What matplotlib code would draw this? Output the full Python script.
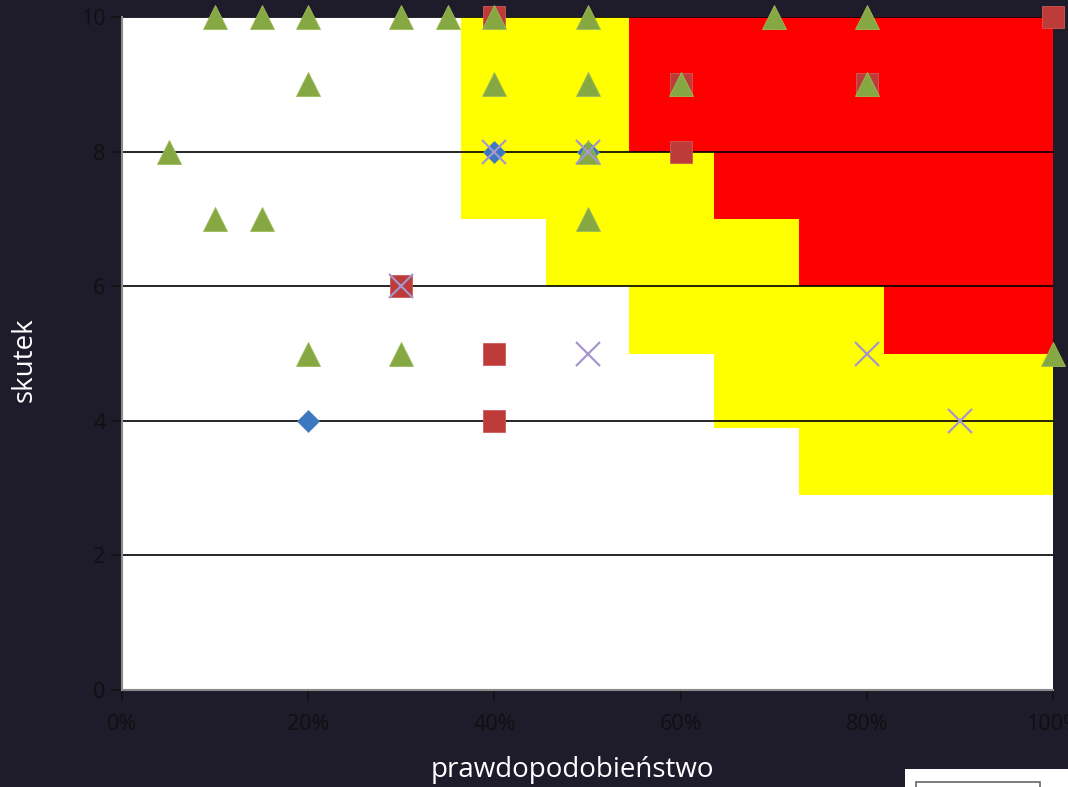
import matplotlib
matplotlib.use("Agg")
import matplotlib.pyplot as plt
from matplotlib.ticker import FuncFormatter
from matplotlib.patches import Rectangle

plt.rcParams['font.family'] = ['Open Sans', 'DejaVu Sans']

# strefy ryzyka (x w %, od-do) i ich dolne granice skutku
strefa_od = [36.4, 45.5, 54.5, 63.6, 72.7, 81.8]
strefa_do = [45.5, 54.5, 63.6, 72.7, 81.8, 100.0]
zolta_dol = [7, 6, 5, 3.9, 2.9, 2.9]
czerwona_od = [54.5, 63.6, 72.7, 81.8]
czerwona_do = [63.6, 72.7, 81.8, 100.0]
czerwona_dol = [8, 7, 6, 5]
gora = 10

# serie punktow: prawdopodobienstwo [%], skutek
romb_x = [40, 50, 20]
romb_y = [8, 8, 4]
kwadrat_x = [40, 100, 60, 80, 60, 30, 40, 40]
kwadrat_y = [10, 10, 9, 9, 8, 6, 5, 4]
trojkat_x = [5, 10, 15, 20, 30, 35, 40, 50, 70, 80,
             20, 40, 50, 60, 80, 10, 15, 50, 50, 20, 30, 100]
trojkat_y = [8, 10, 10, 10, 10, 10, 10, 10, 10, 10,
             9, 9, 9, 9, 9, 7, 7, 8, 7, 5, 5, 5]
krzyzyk_x = [40, 50, 30, 50, 80, 90]
krzyzyk_y = [8, 8, 6, 5, 5, 4]

x_ticks = [0, 20, 40, 60, 80, 100]
y_ticks = [0, 2, 4, 6, 8, 10]

tlo = '#1e1b2b'
fig = plt.figure(figsize=(10.68, 7.87), dpi=100, facecolor=tlo)
ax = fig.add_axes([122 / 1068, 97 / 787, 931 / 1068, 673 / 787])
ax.set_facecolor('white')

# strefy
ax.bar(strefa_od, [gora - d for d in zolta_dol], bottom=zolta_dol,
       width=[b - a for a, b in zip(strefa_od, strefa_do)], align='edge',
       color='#ffff00', linewidth=0, zorder=1)
ax.bar(czerwona_od, [gora - d for d in czerwona_dol], bottom=czerwona_dol,
       width=[b - a for a, b in zip(czerwona_od, czerwona_do)], align='edge',
       color='#ff0000', linewidth=0, zorder=1)

# linie siatki
for yv in y_ticks[1:]:
    ax.axhline(yv, color='black', lw=1.2, zorder=2)

ax.plot(romb_x, romb_y, 'D', ms=11.5, color='#3c78bf', mec='#4f81bd',
        mew=0.5, clip_on=False, zorder=3)
ax.plot(kwadrat_x, kwadrat_y, 's', ms=16.5, color='#bd3b39', mec='#d05a57',
        mew=0.6, clip_on=False, zorder=4)
ax.plot(trojkat_x, trojkat_y, '^', ms=17, color='#86a843', mec='#9bbb59',
        mew=0.6, clip_on=False, zorder=5)
ax.plot(krzyzyk_x, krzyzyk_y, 'x', ms=17, color='#a596cc', mew=1.6,
        clip_on=False, zorder=6)

ax.set_xlim(0, 100)
ax.set_ylim(0, 10)
ax.set_xticks(x_ticks)
ax.set_yticks(y_ticks)
ax.xaxis.set_major_formatter(FuncFormatter(lambda v, p: f'{v:.0f}%'))

for s in ['top', 'right']:
    ax.spines[s].set_visible(False)
for s in ['left', 'bottom']:
    ax.spines[s].set_color('#8a8a8a')
    ax.spines[s].set_linewidth(1.5)
    ax.spines[s].set_zorder(7)

ax.tick_params(axis='both', colors='#111111', labelcolor='#101010',
               labelsize=15.5, length=8, width=1.2, direction='out')
ax.tick_params(axis='x', pad=9)
ax.tick_params(axis='y', pad=4)

fig.text(572 / 1068, 1 - 770 / 787, 'prawdopodobieństwo', color='white',
         fontsize=20, ha='center', va='center')
fig.text(25 / 1068, 1 - 360 / 787, 'skutek', color='white', fontsize=20,
         rotation=90, ha='center', va='center')

# kawalek legendy widoczny w rogu
fig.patches.append(Rectangle((905 / 1068, 0), 163 / 1068, 18 / 787,
                             transform=fig.transFigure, facecolor='white',
                             edgecolor='none'))
fig.patches.append(Rectangle((916 / 1068, -0.01), 124 / 1068, 13 / 787,
                             transform=fig.transFigure, facecolor='white',
                             edgecolor='#666666', linewidth=1.2))

fig.savefig('out.png', dpi=100, facecolor=tlo)
